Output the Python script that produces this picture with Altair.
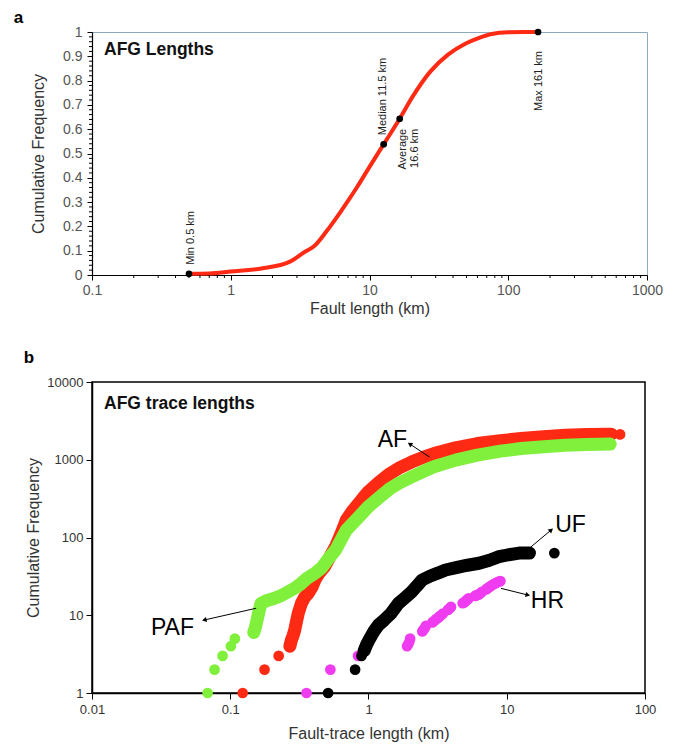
import math
import altair as alt
import pandas as pd

FONT = "Liberation Sans"

# ---------------- Panel a : cumulative frequency of fault lengths ----------------
a_length = [0.5, 0.7, 1.0, 1.67, 2.67, 3.43, 3.96, 4.9, 6.1, 7.0, 8.1, 10.0,
            12.65, 16.5, 20.5, 27.5, 36.8, 49, 61, 76, 100, 130, 164]
a_cum = [0.005, 0.006, 0.014, 0.027, 0.055, 0.096, 0.117, 0.18, 0.255, 0.305, 0.36,
         0.445, 0.538, 0.643, 0.735, 0.838, 0.907, 0.952, 0.975, 0.992, 0.999,
         1.0, 1.0]

key_len = [0.5, 12.65, 16.5, 164]
key_cum = [0.005, 0.538, 0.643, 1.0]

# annotation text, attached to the key points (index into key_len)
note_text = ["Min 0.5 km", "Median 11.5 km", "Average", "16.6 km", "Max 161 km"]
note_key = [0, 1, 2, 2, 3]
note_align = ["left", "left", "right", "right", "right"]
note_dx = [9, 9, -10, -10, -19]
note_dy = [2, -1, 3, 15, 1]

a_xticks = [0.1, 1, 10, 100, 1000]
a_yticks = [round(i * 0.1, 1) for i in range(11)]
a_minor_x = [m * d for d in [0.1, 1, 10, 100] for m in range(2, 10)]
a_minor_y = [i / 50 for i in range(51) if i % 5]

# ---------------- Panel b : cumulative trace-length frequency ----------------
af_dot_x = [0.123, 0.177, 0.224, 66]
af_dot_n = [1, 2, 3, 2120]
af_band_x = [0.27, 0.277, 0.285, 0.293, 0.30, 0.31, 0.327, 0.345, 0.366, 0.39, 0.41,
             0.44, 0.48, 0.53, 0.577, 0.63, 0.692, 0.76, 0.83, 0.91, 0.996, 1.2,
             1.435, 1.7, 2.064, 2.5, 2.97, 4.26, 6.13, 9.0, 12.7, 18.5, 26.4, 38,
             54.6, 57]
af_band_n = [4, 4.8, 5.5, 6.5, 8, 10.5, 14.2, 17, 19.1, 23, 28.4, 35, 42, 58, 76,
             110, 168, 215, 261, 320, 387, 520, 666, 800, 940, 1080, 1203, 1422,
             1617, 1760, 1874, 1980, 2068, 2110, 2130, 2130]

paf_dot_x = [0.0686, 0.077, 0.088, 0.101, 0.108]
paf_dot_n = [1, 2, 3, 4, 5]
paf_band_x = [0.148, 0.152, 0.157, 0.162, 0.167, 0.185, 0.209, 0.235, 0.262, 0.295,
              0.327, 0.36, 0.41, 0.46, 0.52, 0.577, 0.692, 0.83, 0.996, 1.2, 1.435,
              1.7, 2.064, 2.5, 2.97, 4.26, 6.13, 9.0, 12.7, 18.5, 26.4, 38, 47, 56]
paf_band_n = [6, 7, 9, 11.5, 14.2, 15.5, 16.5, 18, 20, 22.5, 25.7, 30, 34.7, 41, 55,
              69, 125, 176, 249, 330, 428, 510, 604, 710, 811, 988, 1145, 1290, 1394,
              1470, 1539, 1570, 1585, 1590]

uf_dot_x = [0.51, 0.80, 0.89, 22.1]
uf_dot_n = [1, 2, 3, 63]
uf_band_x = [0.93, 0.97, 1.02, 1.1, 1.18, 1.3, 1.45, 1.65, 1.85, 2.05, 2.25, 2.44,
             2.8, 3.2, 3.61, 4.3, 5.2, 6.3, 7.5, 8.8, 10.3, 12.3, 14.6]
uf_band_n = [3.5, 4.2, 5, 6.3, 7.5, 8.7, 10.5, 14.3, 17, 20, 24, 28.4, 32, 35, 38.2,
             41, 44, 46.6, 51, 56.6, 60, 63, 63]

hr_dot_x = [0.356, 0.53, 0.84, 1.9, 1.93, 1.97, 2.0, 2.45, 2.5, 2.55, 2.6, 2.9, 2.95,
            3.05, 3.1, 3.2, 3.25, 3.35, 3.45, 3.75, 3.8, 3.9, 3.95, 4.8, 4.9, 5.0, 5.1,
            5.2, 5.3, 5.9, 6.0, 6.15, 6.3, 6.45, 6.6, 7.1, 7.2, 7.4, 7.6, 7.8, 8.0,
            8.25, 8.5, 8.75, 9.0]
hr_dot_n = [1, 2, 3, 4, 4.2, 4.5, 5, 6.2, 6.5, 6.8, 7.3, 8.1, 8.3, 8.7, 9, 9.3, 9.6,
            10, 10.5, 11.7, 12, 12.4, 12.8, 14.3, 14.5, 15, 15.5, 16, 16.5, 17.7, 18,
            18.3, 18.5, 19.2, 20, 21.5, 22, 22.8, 23.5, 24.3, 25, 25.7, 26.5, 27, 27.5]

label_text = ["AF", "UF", "HR", "PAF"]
label_x = [1.487, 28.9, 19.7, 0.0382]
label_n = [1795, 144.8, 15.3, 6.86]

arrow_tail_x = [2.76, 14.6, 9.08, 0.154]
arrow_tail_n = [1084, 73, 22.2, 12.3]
arrow_head_x = [1.99, 20.97, 14.2, 0.0649]
arrow_head_n = [1594, 125, 18.2, 8.69]

b_xticks = [0.01, 0.1, 1, 10, 100]
b_yticks = [1, 10, 100, 1000, 10000]

RED = "#ff2a14"
GREEN = "#80f03c"
BLACK = "#000000"
MAGENTA = "#f03cf0"

W_A, H_A = 555, 243
W_B, H_B = 553, 311

# ================= Panel a =================
xs_a = alt.Scale(type="log", domain=[0.1, 1000], nice=False)
ys_a = alt.Scale(domain=[0, 1], nice=False, zero=False)

ax_a_x = alt.Axis(values=a_xticks, format="~g", title="Fault length (km)", grid=False,
                  tickSize=5, tickColor="black", domainColor="black", domainWidth=1.2,
                  labelFont=FONT, labelFontSize=14, labelColor="#555555", labelPadding=3,
                  labelFlush=False, titleFont=FONT, titleFontSize=16,
                  titleFontWeight="normal", titleColor="#333333", titlePadding=3)
ax_a_y = alt.Axis(values=a_yticks, format="~g", title="Cumulative Frequency", grid=False,
                  tickSize=5, tickColor="black", domainColor="black", domainWidth=1.2,
                  labelFont=FONT, labelFontSize=14, labelColor="#555555", labelPadding=5,
                  labelFlush=False, titleFont=FONT, titleFontSize=16,
                  titleFontWeight="normal", titleColor="#333333", titlePadding=16)


def X_a(f="len"):
    return alt.X(f"{f}:Q", scale=xs_a, axis=ax_a_x)


def Y_a(f="cum"):
    return alt.Y(f"{f}:Q", scale=ys_a, axis=ax_a_y)


a_df = pd.DataFrame({"len": a_length, "cum": a_cum})
curve = alt.Chart(a_df).mark_line(color=RED, strokeWidth=4, interpolate="monotone").encode(
    x=X_a(), y=Y_a())
keys = alt.Chart(pd.DataFrame({"len": key_len, "cum": key_cum})).mark_circle(
    color="black", size=45, opacity=1).encode(x=X_a(), y=Y_a())

notes = []
for t, k, al, dx, dy in zip(note_text, note_key, note_align, note_dx, note_dy):
    df = pd.DataFrame({"len": [key_len[k]], "cum": [key_cum[k]], "t": [t]})
    notes.append(alt.Chart(df).mark_text(angle=270, align=al, baseline="middle", dx=dx, dy=dy,
                                         font=FONT, fontSize=11, color="#222222").encode(
        x=X_a(), y=Y_a(), text="t:N"))

minor_xa = alt.Chart(pd.DataFrame({"len": a_minor_x})).mark_rule(color="black", strokeWidth=1).encode(
    x=X_a(), y=alt.value(H_A), y2=alt.value(H_A + 3))
minor_ya = alt.Chart(pd.DataFrame({"cum": a_minor_y})).mark_rule(color="black", strokeWidth=1).encode(
    y=Y_a(), x=alt.value(-3), x2=alt.value(0))

a_letter = alt.Chart(pd.DataFrame({"t": ["a"]})).mark_text(
    font=FONT, fontSize=17, fontWeight="bold", align="center", baseline="middle", color="black").encode(
    x=alt.value(-73.5), y=alt.value(-14), text="t:N")
a_title = alt.Chart(pd.DataFrame({"t": ["AFG Lengths"]})).mark_text(
    font=FONT, fontSize=17.5, fontWeight="bold", align="left", baseline="middle", color="#111111").encode(
    x=alt.value(12), y=alt.value(17.5), text="t:N")

panel_a = alt.layer(curve, minor_xa, minor_ya, keys, *notes, a_letter, a_title).properties(
    width=W_A, height=H_A, view=alt.ViewBackground(stroke="#8fa9bd", strokeWidth=1))

# ================= Panel b =================
xs_b = alt.Scale(type="log", domain=[0.01, 100], nice=False)
ys_b = alt.Scale(type="log", domain=[1, 10000], nice=False)

ax_b_x = alt.Axis(values=b_xticks, format="~g", title="Fault-trace length (km)", grid=False,
                  tickSize=6, tickColor="black", domainColor="black", domainWidth=1.5,
                  labelFont=FONT, labelFontSize=13, labelColor="#333333", labelPadding=4,
                  labelFlush=False, titleFont=FONT, titleFontSize=16,
                  titleFontWeight="normal", titleColor="#333333", titlePadding=9)
ax_b_y = alt.Axis(values=b_yticks, format="~g", title="Cumulative Frequency", grid=False,
                  tickSize=6, tickColor="black", domainColor="black", domainWidth=1.5,
                  labelFont=FONT, labelFontSize=13, labelColor="#333333", labelPadding=3,
                  labelFlush=False, titleFont=FONT, titleFontSize=16,
                  titleFontWeight="normal", titleColor="#333333", titlePadding=5)


def X_b(f="x"):
    return alt.X(f"{f}:Q", scale=xs_b, axis=ax_b_x)


def Y_b(f="n"):
    return alt.Y(f"{f}:Q", scale=ys_b, axis=ax_b_y)


layers_b = []
series = [
    (af_band_x, af_band_n, af_dot_x, af_dot_n, RED),
    (paf_band_x, paf_band_n, paf_dot_x, paf_dot_n, GREEN),
    ([], [], hr_dot_x, hr_dot_n, MAGENTA),
    (uf_band_x, uf_band_n, uf_dot_x, uf_dot_n, BLACK),
]
for bx, bn, dx_, dn_, col in series:
    if bx:
        band = pd.DataFrame({"x": bx, "n": bn})
        layers_b.append(alt.Chart(band).mark_line(color=col, strokeWidth=13, strokeCap="round",
                                                  strokeJoin="round").encode(x=X_b(), y=Y_b()))
        layers_b.append(alt.Chart(band).mark_circle(color=col, size=120, opacity=1).encode(
            x=X_b(), y=Y_b()))
    dots = pd.DataFrame({"x": dx_, "n": dn_})
    layers_b.append(alt.Chart(dots).mark_circle(color=col, size=115, opacity=1).encode(
        x=X_b(), y=Y_b()))


def px(x):
    return W_B * (math.log10(x) + 2) / 4


def py(n):
    return H_B * (1 - math.log10(n) / 4)


arrow_angle = [(math.degrees(math.atan2(px(hx) - px(tx), -(py(hn) - py(tn)))) + 360) % 360
               for tx, tn, hx, hn in zip(arrow_tail_x, arrow_tail_n, arrow_head_x, arrow_head_n)]
arr_df = pd.DataFrame({"x": arrow_tail_x, "n": arrow_tail_n, "x2": arrow_head_x,
                       "n2": arrow_head_n, "ang": arrow_angle})
arrows = alt.Chart(arr_df).mark_rule(color="black", strokeWidth=1).encode(
    x=X_b(), y=Y_b(), x2="x2:Q", y2="n2:Q")
heads = alt.Chart(arr_df).mark_point(shape="triangle-up", filled=True, size=28, color="black",
                                     opacity=1).encode(
    x=X_b("x2"), y=Y_b("n2"), angle=alt.Angle("ang:Q", scale=None))
labels = alt.Chart(pd.DataFrame({"x": label_x, "n": label_n, "t": label_text})).mark_text(
    font=FONT, fontSize=23, align="center", baseline="middle", color="black").encode(
    x=X_b(), y=Y_b(), text="t:N")

b_letter = alt.Chart(pd.DataFrame({"t": ["b"]})).mark_text(
    font=FONT, fontSize=17, fontWeight="bold", align="center", baseline="middle", color="black").encode(
    x=alt.value(-63), y=alt.value(-24), text="t:N")
b_title = alt.Chart(pd.DataFrame({"t": ["AFG trace lengths"]})).mark_text(
    font=FONT, fontSize=17.5, fontWeight="bold", align="left", baseline="middle", color="#111111").encode(
    x=alt.value(12), y=alt.value(22), text="t:N")

panel_b = alt.layer(*layers_b, arrows, heads, labels, b_letter, b_title).properties(
    width=W_B, height=H_B, view=alt.ViewBackground(stroke="black", strokeWidth=1.5))

chart = alt.vconcat(panel_a, panel_b, spacing=31).properties(
    padding={"left": 5, "top": 0, "right": 5, "bottom": 5}, background="white")

chart.save("out.html", embed_options={"renderer": "svg", "actions": False})
